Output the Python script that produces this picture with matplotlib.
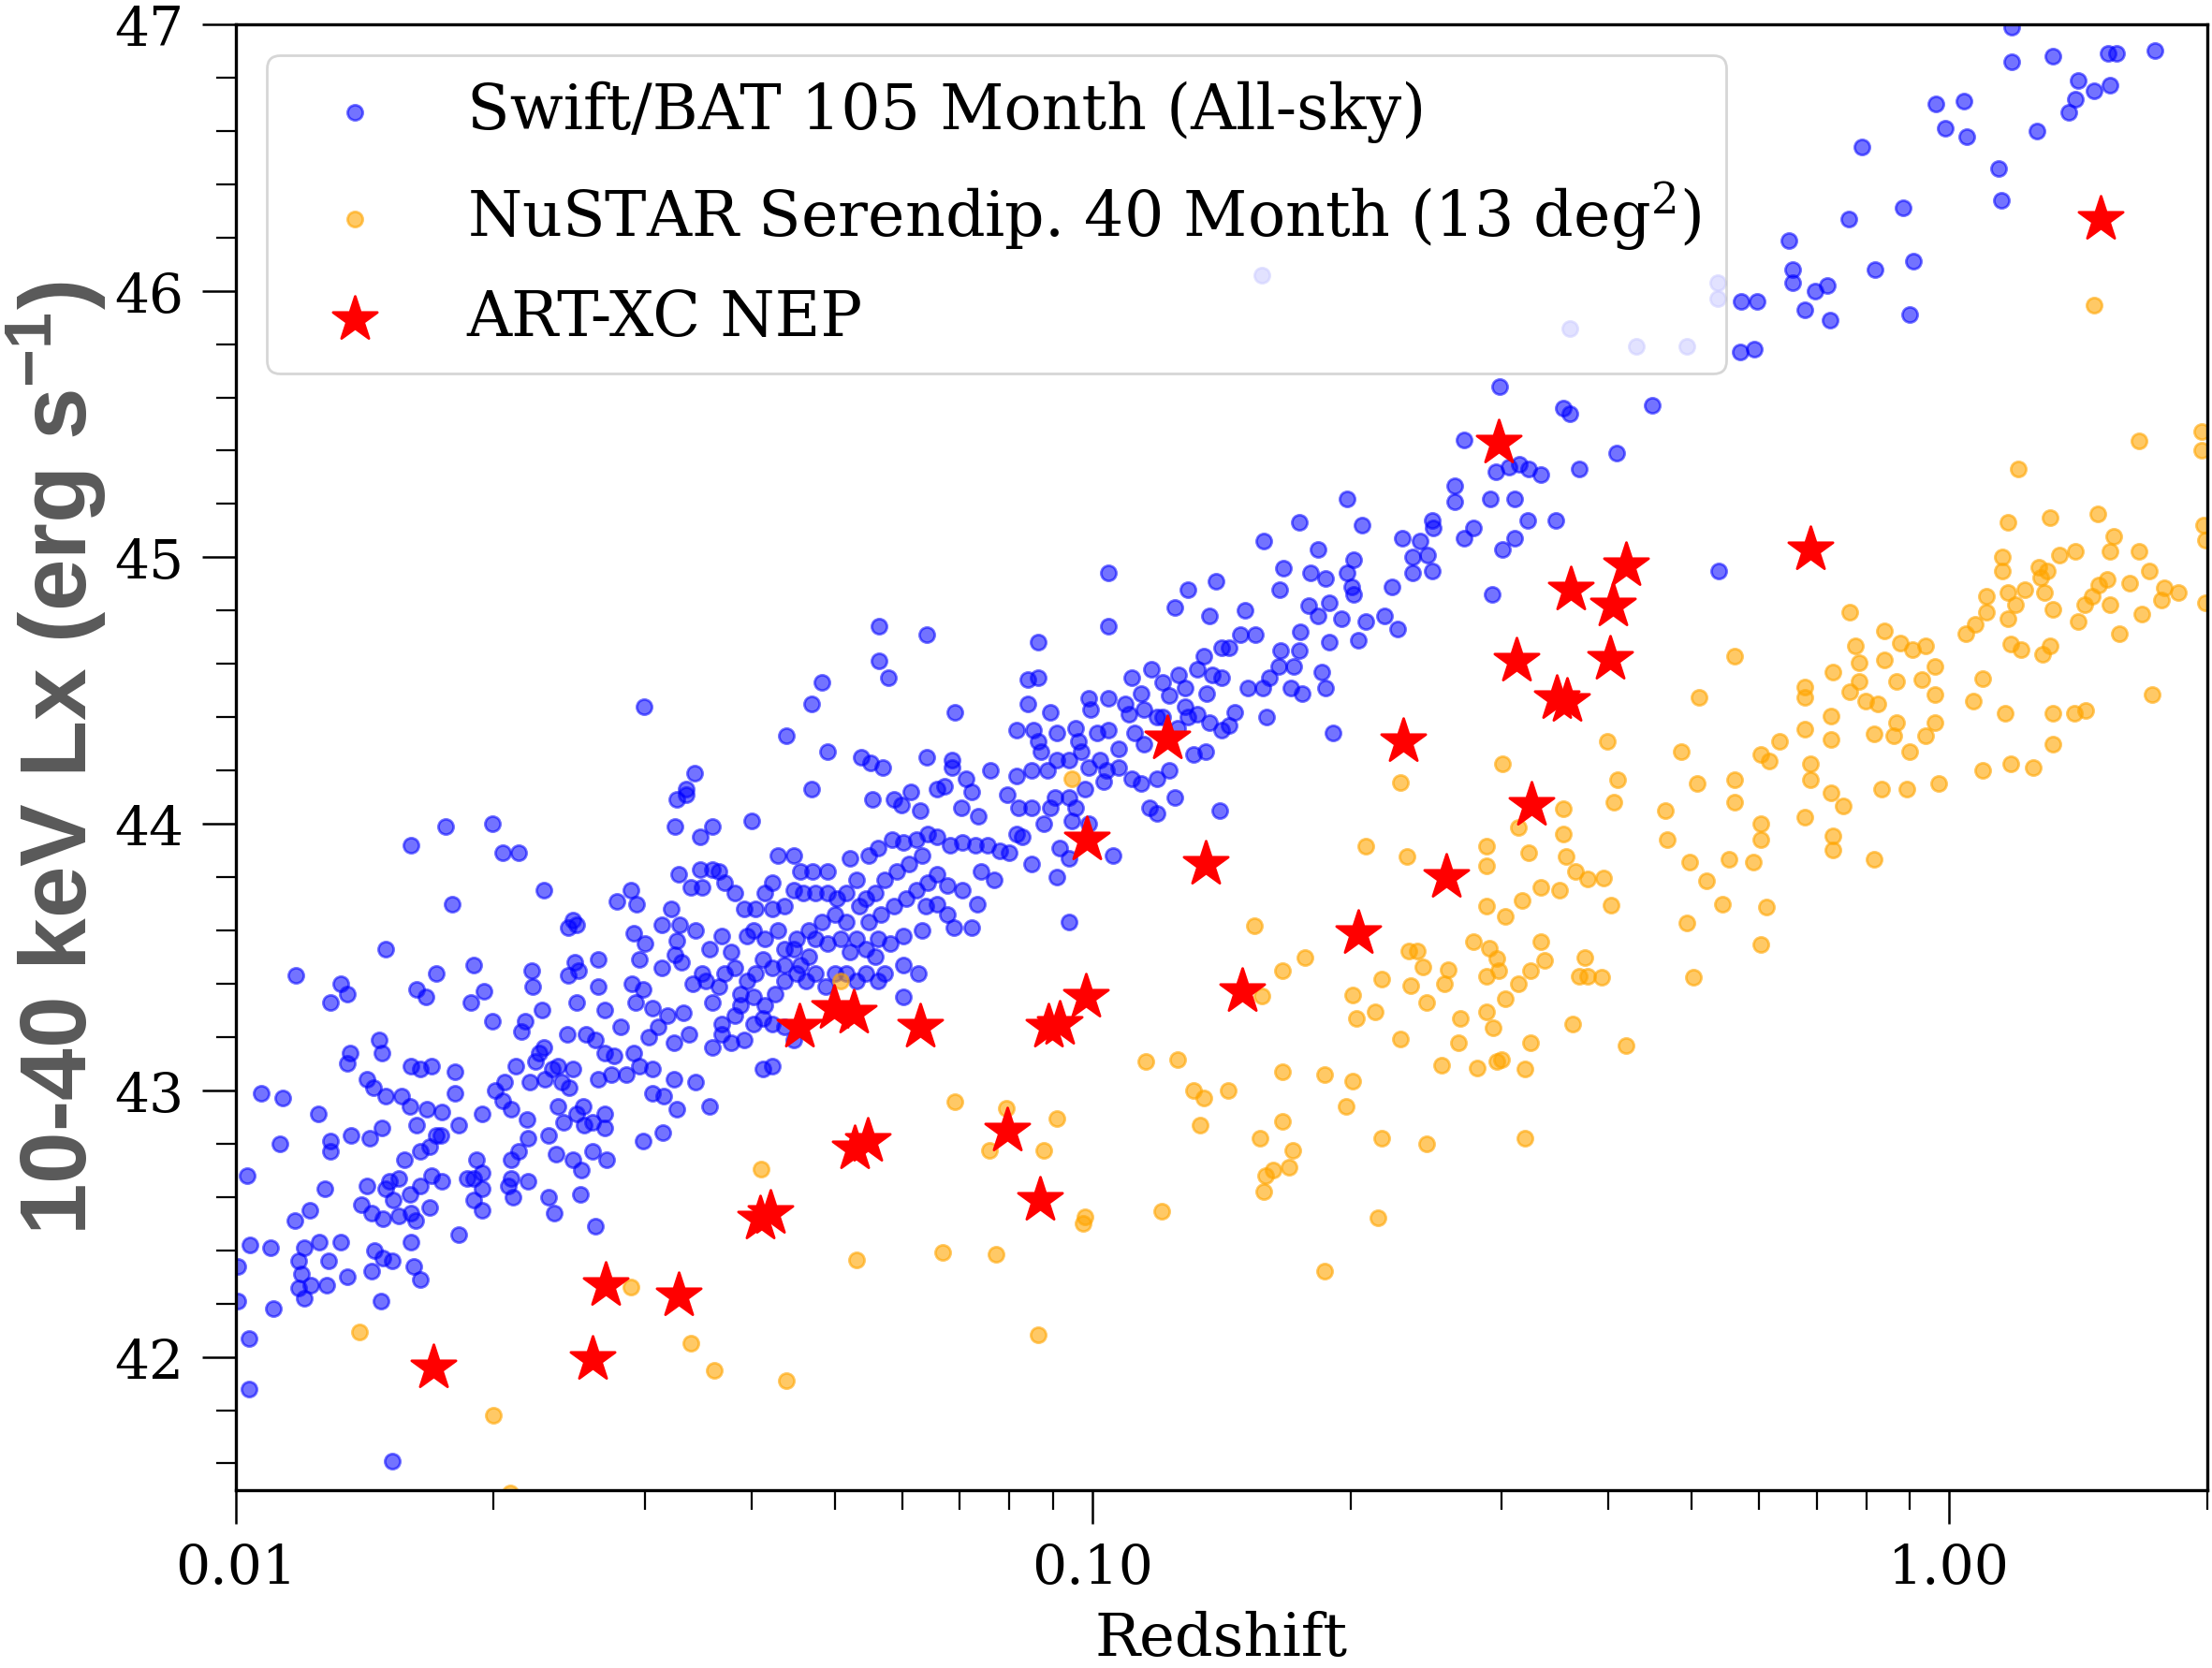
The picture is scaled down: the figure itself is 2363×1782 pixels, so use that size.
import numpy as np
import matplotlib
matplotlib.use("Agg")
import matplotlib.pyplot as plt
from matplotlib.ticker import FormatStrFormatter, AutoMinorLocator, NullFormatter

plt.rcParams['font.family'] = 'DejaVu Serif'
plt.rcParams['mathtext.fontset'] = 'custom'
plt.rcParams['mathtext.rm'] = 'Liberation Sans:bold'
plt.rcParams['mathtext.it'] = 'Liberation Sans:bold'
plt.rcParams['mathtext.bf'] = 'Liberation Sans:bold'

# Swift/BAT 105 month: log10(redshift) and log10 Lx
bat_log_z = [
    -1.485, -1.474, -1.487, -1.458, -1.458, -1.483, -1.469, -1.456, -1.755, -1.700,
    -1.796, -1.689, -1.670, -1.747, -1.640, -1.555, -1.539, -1.532, -1.492, -1.606,
    -1.602, -1.612, -1.536, -1.522, -1.503, -1.482, -1.463, -1.485, -1.487, -1.529,
    -1.577, -1.604, -1.480, -1.825, -1.930, -1.877, -1.870, -1.889, -1.789, -1.778,
    -1.766, -1.722, -1.710, -1.726, -1.700, -1.655, -1.653, -1.612, -1.600, -1.602,
    -1.577, -1.569, -1.643, -1.662, -1.667, -1.538, -1.525, -1.514, -1.533, -1.503,
    -1.467, -1.456, -1.496, -1.478, -1.833, -1.829, -1.867, -1.870, -1.847, -1.839,
    -1.825, -1.807, -1.796, -1.785, -1.772, -1.744, -1.744, -1.797, -1.777, -1.759,
    -1.789, -1.740, -1.712, -1.697, -1.686, -1.673, -1.657, -1.646, -1.640, -1.650,
    -1.631, -1.620, -1.613, -1.591, -1.580, -1.569, -1.558, -1.551, -1.536, -1.518,
    -1.507, -1.489, -1.471, -1.463, -1.562, -1.544, -1.577, -1.611, -1.624, -1.679,
    -1.660, -1.639, -1.624, -1.606, -1.514, -1.489, -1.529, -1.970, -1.945, -1.904,
    -1.948, -1.889, -1.889, -1.866, -1.844, -1.829, -1.766, -1.774, -1.761, -1.803,
    -1.810, -1.785, -1.771, -1.759, -1.785, -1.797, -1.821, -1.825, -1.847, -1.816,
    -1.774, -1.790, -1.796, -1.810, -1.828, -1.841, -1.854, -1.896, -1.914, -1.931,
    -1.719, -1.722, -1.713, -1.712, -1.722, -1.713, -1.730, -1.679, -1.670, -1.659,
    -1.679, -1.682, -1.677, -1.659, -1.635, -1.626, -1.617, -1.602, -1.595, -1.593,
    -1.584, -1.569, -1.569, -1.606, -1.597, -1.584, -1.567, -1.635, -1.628, -1.598,
    -1.580, -1.525, -1.502, -1.485, -1.514, -1.500, -1.740, -1.688, -1.987, -1.984,
    -1.959, -1.920, -1.903, -1.878, -1.927, -1.923, -1.927, -1.920, -1.912, -1.892,
    -1.894, -1.870, -1.838, -1.828, -1.817, -1.841, -1.830, -1.796, -1.792, -1.785,
    -1.956, -1.985, -1.985, -1.817, -1.998, -1.998,
    # middle of the band
    -1.524, -1.465, -1.474, -1.249, -1.194, -1.249, -1.238, -1.316, -1.328, -1.357,
    -1.309, -1.270, -1.259, -1.245, -1.194, -1.328, -1.398, -1.444, -1.257, -1.212,
    -1.232, -1.223, -1.201, -1.367, -1.349, -1.374, -1.382, -1.341, -1.327, -1.309,
    -1.283, -1.261, -1.250, -1.234, -1.221, -1.206, -1.192, -1.199, -1.214, -1.228,
    -1.243, -1.254, -1.265, -1.276, -1.287, -1.298, -1.309, -1.323, -1.338, -1.349,
    -1.360, -1.374, -1.393, -1.407, -1.418, -1.429, -1.436, -1.444, -1.447, -1.433,
    -1.422, -1.403, -1.396, -1.382, -1.367, -1.360, -1.345, -1.331, -1.316, -1.301,
    -1.287, -1.272, -1.261, -1.247, -1.232, -1.217, -1.206, -1.192, -1.195, -1.199,
    -1.221, -1.236, -1.250, -1.254, -1.265, -1.276, -1.283, -1.294, -1.309, -1.323,
    -1.331, -1.341, -1.349, -1.360, -1.374, -1.385, -1.393, -1.403, -1.411, -1.418,
    -1.429, -1.436, -1.451, -1.444, -1.433, -1.418, -1.411, -1.396, -1.382, -1.371,
    -1.360, -1.345, -1.334, -1.323, -1.312, -1.301, -1.287, -1.276, -1.265, -1.250,
    -1.243, -1.221, -1.203, -1.221, -1.444, -1.433, -1.422, -1.407, -1.396, -1.385,
    -1.374, -1.360, -1.349, -1.447, -1.385, -1.374,
    # upper middle
    -0.703, -0.759, -0.685, -0.800, -0.737, -0.638, -0.777, -0.745, -0.728, -0.782,
    -0.703, -0.695, -0.697, -0.695, -0.651, -0.982, -0.889, -0.856, -0.904, -0.863,
    -0.822, -0.982, -0.748, -0.724, -0.737, -0.710, -0.681, -0.659, -0.644, -0.757,
    -0.724, -0.690, -0.827, -0.810, -0.841, -0.849, -0.781, -0.759, -1.064, -1.075,
    -1.064, -1.075, -0.954, -0.931, -0.918, -0.900, -0.878, -0.870, -0.860, -0.849,
    -0.892, -0.911, -0.819, -0.801, -0.794, -0.783, -0.765, -0.768, -0.755, -0.732,
    -0.728, -1.004, -0.982, -1.002, -1.049, -0.962, -0.943, -0.940, -0.958, -0.925,
    -0.892, -0.889, -0.878, -0.867, -0.863, -0.834, -0.797, -0.719, -1.161, -1.089,
    -1.069, -1.064, -1.060, -1.042, -1.020, -1.016, -1.013, -0.995, -0.982, -0.969,
    -0.951, -0.940, -0.918, -0.901, -0.849, -0.841, -0.882, -0.868, -1.164, -1.164,
    -1.119, -1.089, -1.071, -1.053, -1.042, -1.027, -1.005, -0.991, -0.984, -0.969,
    -0.954, -0.943, -0.925, -0.911, -0.987, -1.009, -1.044, -1.027, -1.181, -1.173,
    -1.148, -1.141, -1.153, -1.133, -1.100, -1.086, -1.071, -1.057, -1.049, -1.020,
    -1.005, -1.024, -0.933, -0.925, -0.904, -0.852, -1.181, -1.166, -1.152, -1.137,
    -1.122, -1.108, -1.089, -1.082, -1.097, -1.071, -1.038, -1.027, -0.976, -1.042,
    -1.115, -1.130, -1.181, -1.170, -1.152, -1.181, -1.170, -1.162, -1.141, -1.135,
    -1.027,
    # high redshift end
    -0.270, -0.270, -0.443, -0.365, -0.306, -0.243, -0.224, -0.244, -0.228, -0.525,
    -0.451, -0.443, -0.347, -0.566, -0.388, -0.432, -0.529, -0.514, -0.502, -0.491,
    -0.477, -0.577, -0.577, -0.536, -0.507, -0.492, -0.459, -0.555, -0.566, -0.507,
    -0.522, -0.269, -0.533, -0.604, -0.602, -0.618, -0.609, -0.604, -0.626, -0.626,
    0.073, 0.121, 0.185, 0.195, 0.240, 0.073, 0.151, 0.169, 0.188, 0.147,
    0.140, 0.102, -0.016, 0.017, -0.005, 0.020, 0.058, 0.061, -0.102, -0.117,
    -0.054, -0.187, -0.183, -0.183, -0.157, -0.142, -0.169, -0.139, -0.087, -0.042,
    -0.046, -0.802,
]
bat_lx = [
    44.09, 44.11, 43.99, 43.95, 43.83, 43.81, 43.76, 43.76, 43.99, 44.00,
    43.92, 43.89, 43.89, 43.70, 43.75, 43.71, 43.75, 43.70, 43.68, 43.64,
    43.62, 43.61, 43.59, 43.55, 43.62, 43.62, 43.60, 43.56, 43.51, 43.49,
    43.49, 43.48, 43.48, 43.53, 43.43, 43.40, 43.36, 43.33, 43.38, 43.35,
    43.44, 43.47, 43.37, 43.33, 43.26, 43.45, 43.39, 43.43, 43.45, 43.33,
    43.39, 43.30, 43.30, 43.26, 43.22, 43.40, 43.38, 43.31, 43.33, 43.46,
    43.40, 43.44, 43.28, 43.29, 43.19, 43.14, 43.14, 43.10, 43.04, 43.01,
    42.98, 42.98, 43.09, 43.08, 43.09, 43.07, 42.99, 42.94, 42.93, 42.92,
    42.87, 42.87, 42.91, 43.00, 43.03, 43.09, 43.03, 43.14, 43.16, 43.11,
    43.08, 43.03, 43.21, 43.21, 43.19, 43.14, 43.13, 43.24, 43.14, 43.20,
    43.24, 43.18, 43.21, 43.03, 43.06, 43.06, 43.04, 43.01, 42.94, 42.93,
    42.89, 43.04, 43.09, 43.08, 43.08, 43.04, 43.09, 42.99, 42.97, 42.91,
    42.80, 42.81, 42.77, 42.83, 42.82, 42.86, 42.83, 42.79, 42.83, 42.74,
    42.67, 42.77, 42.68, 42.66, 42.64, 42.61, 42.66, 42.63, 42.64, 42.59,
    42.56, 42.51, 42.54, 42.53, 42.52, 42.54, 42.57, 42.63, 42.55, 42.51,
    42.74, 42.67, 42.69, 42.63, 42.59, 42.55, 42.67, 42.74, 42.77, 42.82,
    42.67, 42.64, 42.60, 42.66, 42.83, 42.76, 42.88, 42.91, 42.94, 42.87,
    42.88, 42.91, 42.86, 42.74, 42.70, 42.77, 42.74, 42.60, 42.54, 42.61,
    42.49, 42.81, 42.84, 42.93, 42.99, 42.98, 42.46, 42.96, 42.68, 42.42,
    42.41, 42.41, 42.43, 42.43, 42.36, 42.31, 42.26, 42.22, 42.27, 42.36,
    42.27, 42.30, 42.40, 42.37, 42.36, 42.32, 42.21, 42.43, 42.34, 42.29,
    42.18, 42.07, 41.88, 41.61, 42.34, 42.21,
    # middle of the band
    44.44, 44.19, 44.13, 44.74, 44.71, 44.61, 44.55, 44.53, 44.45, 44.33,
    44.27, 44.25, 44.23, 44.21, 44.25, 44.13, 44.01, 43.99, 44.09, 44.12,
    44.09, 44.07, 44.05, 43.88, 43.88, 43.78, 43.74, 43.82, 43.82, 43.82,
    43.87, 43.88, 43.91, 43.94, 43.93, 43.94, 43.96, 43.88, 43.85, 43.82,
    43.79, 43.74, 43.72, 43.79, 43.74, 43.72, 43.74, 43.74, 43.74, 43.75,
    43.69, 43.68, 43.68, 43.68, 43.74, 43.78, 43.82, 43.83, 43.53, 43.58,
    43.52, 43.58, 43.60, 43.57, 43.60, 43.53, 43.57, 43.60, 43.63, 43.66,
    43.63, 43.69, 43.63, 43.66, 43.69, 43.72, 43.75, 43.78, 43.69, 43.60,
    43.58, 43.55, 43.57, 43.50, 43.53, 43.57, 43.52, 43.57, 43.55, 43.57,
    43.50, 43.47, 43.53, 43.47, 43.46, 43.49, 43.44, 43.41, 43.36, 43.46,
    43.44, 43.39, 43.41, 43.33, 43.25, 43.28, 43.32, 43.35, 43.32, 43.36,
    43.41, 43.44, 43.41, 43.44, 43.39, 43.44, 43.44, 43.41, 43.44, 43.41,
    43.44, 43.35, 43.44, 43.47, 43.16, 43.21, 43.18, 43.19, 43.25, 43.27,
    43.25, 43.24, 43.19, 42.94, 43.08, 43.09,
    # upper middle
    45.22, 45.13, 45.12, 45.06, 45.03, 45.07, 44.96, 44.94, 44.92, 44.88,
    44.94, 44.99, 44.89, 44.86, 44.89, 44.94, 44.88, 44.91, 44.81, 44.78,
    44.80, 44.74, 44.82, 44.83, 44.78, 44.77, 44.76, 44.78, 44.73, 44.72,
    44.68, 44.69, 44.71, 44.71, 44.66, 44.66, 44.65, 44.65, 44.68, 44.54,
    44.55, 44.45, 44.55, 44.58, 44.53, 44.56, 44.58, 44.63, 44.56, 44.55,
    44.51, 44.48, 44.51, 44.51, 44.55, 44.59, 44.59, 44.51, 44.49, 44.57,
    44.51, 44.47, 44.47, 44.43, 44.42, 44.45, 44.49, 44.43, 44.41, 44.40,
    44.44, 44.40, 44.41, 44.49, 44.38, 44.42, 44.40, 44.34, 44.42, 44.35,
    44.35, 44.31, 44.27, 44.34, 44.36, 44.31, 44.27, 44.34, 44.35, 44.28,
    44.34, 44.30, 44.40, 44.36, 44.35, 44.37, 44.26, 44.27, 44.24, 44.21,
    44.20, 44.18, 44.20, 44.20, 44.24, 44.24, 44.21, 44.24, 44.20, 44.21,
    44.17, 44.15, 44.17, 44.20, 44.16, 44.13, 44.10, 44.10, 44.13, 44.14,
    44.17, 44.12, 44.06, 44.03, 44.11, 44.06, 44.06, 44.00, 44.06, 44.06,
    44.00, 44.01, 44.06, 44.04, 44.10, 44.05, 43.95, 43.92, 43.93, 43.92,
    43.92, 43.90, 43.96, 43.95, 43.89, 43.85, 43.91, 43.87, 43.88, 43.80,
    43.79, 43.82, 43.81, 43.77, 43.75, 43.70, 43.66, 43.61, 43.61, 43.70,
    43.63,
    # high redshift end
    46.03, 45.97, 45.86, 45.79, 45.79, 45.96, 45.96, 45.77, 45.78, 45.64,
    45.56, 45.54, 45.57, 45.44, 45.39, 45.33, 45.32, 45.34, 45.35, 45.33,
    45.31, 45.27, 45.21, 45.22, 45.22, 45.14, 45.14, 45.11, 45.07, 45.07,
    45.03, 44.95, 44.86, 45.14, 45.11, 45.06, 45.01, 44.95, 45.00, 44.94,
    46.86, 46.88, 46.89, 46.89, 46.90, 46.99, 46.79, 46.75, 46.77, 46.72,
    46.67, 46.60, 46.70, 46.71, 46.61, 46.58, 46.46, 46.34, 46.54, 46.27,
    46.31, 46.19, 46.08, 46.03, 46.00, 46.02, 45.93, 45.89, 46.08, 46.11,
    45.91, 46.06,
]

# NuSTAR serendipitous survey
nustar_z = [
    0.2083, 0.2327, 0.2884, 0.2884, 0.3541, 0.3541, 0.3139, 0.3225, 0.3575, 0.3662,
    0.3788, 0.3336, 0.3508, 0.3170, 0.2884, 0.3034, 0.1544, 0.1771, 0.1668, 0.1575,
    0.2782, 0.2905, 0.2962, 0.2976, 0.2884, 0.3336, 0.3368, 0.3247, 0.3139, 0.3034,
    0.2884, 0.2934, 0.2690, 0.2672, 0.2557, 0.2809, 0.2962, 0.3005, 0.3193, 0.3247,
    0.3638, 0.3753, 0.3788, 0.3698, 0.2338, 0.2395, 0.2430, 0.2600, 0.2575, 0.2350,
    0.2454, 0.2176, 0.2013, 0.2032, 0.2137, 0.2287, 0.1153, 0.1257, 0.1313, 0.1349,
    0.1440, 0.1668, 0.1864, 0.2013, 0.1978, 0.1336, 0.1668, 0.1570, 0.1712, 0.1696,
    0.1623, 0.1592, 0.1585, 0.2176, 0.2454, 0.3193, 0.0908, 0.0878, 0.0981, 0.0974,
    0.1205, 0.2155, 0.1864, 0.0863,
    1.667, 1.970, 1.970, 1.204, 1.172, 1.311, 1.490, 1.555, 1.542, 1.665,
    1.404, 1.345, 1.154, 1.154, 1.272, 1.300, 1.279, 1.712, 1.623, 1.494,
    1.529, 1.542, 1.439, 1.470, 1.781, 1.849, 1.768, 1.676, 1.580, 1.413,
    1.321, 1.290, 1.226, 1.172, 1.194, 1.172, 1.105, 1.105, 1.073, 1.045,
    1.181, 1.213, 1.286, 1.311, 1.981, 1.990, 1.990, 0.765, 0.839, 0.876,
    0.905, 0.939, 0.777, 0.785, 0.732, 0.839, 0.962, 0.785, 0.765, 0.679,
    0.679, 0.798, 0.825, 0.869, 0.929, 0.962, 1.094, 1.067, 1.162, 1.321,
    1.401, 1.442, 1.725, 1.321, 1.181, 1.252, 1.094, 0.972, 0.892, 0.833,
    0.727, 0.679, 0.727, 0.633, 0.602, 0.616, 0.689, 0.689, 0.727, 0.752,
    0.679, 0.818, 0.869, 0.962, 0.939, 0.862, 0.900, 0.818, 0.731, 0.731,
    0.561, 0.511, 0.399, 0.410, 0.406, 0.486, 0.508, 0.561, 0.561, 0.466,
    0.469, 0.602, 0.602, 0.498, 0.553, 0.590, 0.521, 0.395, 0.403, 0.543,
    0.612, 0.494, 0.602, 0.393, 0.503, 0.420,
    0.01395, 0.01996, 0.0289, 0.0340, 0.0209, 0.0362, 0.0439, 0.0508, 0.0947, 0.0691,
    0.0793, 0.0758, 0.0410, 0.0530, 0.0668, 0.0771, 0.2287, 0.301, 1.477,
]
nustar_lx = [
    43.915, 43.877, 43.915, 43.841, 44.056, 43.962, 43.985, 43.891, 43.877, 43.821,
    43.794, 43.761, 43.750, 43.714, 43.690, 43.653, 43.617, 43.499, 43.450, 43.354,
    43.559, 43.535, 43.496, 43.450, 43.428, 43.559, 43.486, 43.450, 43.401, 43.342,
    43.295, 43.235, 43.271, 43.177, 43.093, 43.083, 43.110, 43.117, 43.081, 43.177,
    43.248, 43.499, 43.428, 43.428, 43.523, 43.523, 43.462, 43.452, 43.401, 43.392,
    43.331, 43.416, 43.356, 43.271, 43.295, 43.191, 43.107, 43.117, 43.000, 42.973,
    43.000, 43.070, 43.059, 43.035, 42.939, 42.869, 42.882, 42.822, 42.775, 42.712,
    42.701, 42.681, 42.621, 42.822, 42.798, 42.822, 42.893, 42.775, 42.527, 42.500,
    42.547, 42.523, 42.322, 42.084,
    45.437, 45.471, 45.401, 45.330, 45.130, 45.150, 45.163, 45.080, 45.021, 45.021,
    45.021, 45.010, 45.002, 44.950, 44.963, 44.947, 44.924, 44.950, 44.903, 44.895,
    44.916, 44.822, 44.822, 44.853, 44.884, 44.869, 44.841, 44.786, 44.712, 44.759,
    44.806, 44.869, 44.877, 44.869, 44.822, 44.770, 44.853, 44.794, 44.747, 44.712,
    44.673, 44.653, 44.637, 44.666, 45.119, 45.064, 44.830, 44.795, 44.725, 44.678,
    44.653, 44.666, 44.666, 44.606, 44.569, 44.616, 44.592, 44.533, 44.497, 44.512,
    44.475, 44.462, 44.450, 44.533, 44.543, 44.486, 44.545, 44.462, 44.415, 44.415,
    44.415, 44.426, 44.486, 44.298, 44.224, 44.212, 44.201, 44.152, 44.131, 44.131,
    44.403, 44.356, 44.318, 44.309, 44.262, 44.235, 44.224, 44.165, 44.118, 44.068,
    44.024, 44.337, 44.381, 44.381, 44.329, 44.329, 44.271, 43.868, 43.954, 43.902,
    44.630, 44.475, 44.309, 44.165, 44.082, 44.271, 44.152, 44.165, 44.082, 44.048,
    43.941, 44.001, 43.941, 43.855, 43.868, 43.855, 43.785, 43.797, 43.696, 43.700,
    43.688, 43.628, 43.547, 43.425, 43.425, 43.167,
    42.095, 41.779, 42.263, 42.052, 41.49, 41.95, 41.91, 43.409, 44.168, 42.956,
    42.932, 42.776, 42.705, 42.364, 42.392, 42.385, 44.155, 44.225, 45.947,
]

# ART-XC NEP sources
art_z = [
    0.0170, 0.0261, 0.0270, 0.0329, 0.0409, 0.0421, 0.0455, 0.0499, 0.0526, 0.0528,
    0.0547, 0.0630, 0.0796, 0.0869, 0.0889, 0.0916, 0.0982, 0.0985, 0.1223, 0.1355,
    0.1496, 0.2043, 0.2307, 0.2587, 0.2978, 0.3128, 0.325, 0.348, 0.358, 0.362,
    0.402, 0.405, 0.419, 0.689, 1.503,
]
art_lx = [
    41.96, 41.99, 42.27, 42.23, 42.52, 42.54, 43.24, 43.31, 43.29, 42.78,
    42.81, 43.24, 42.85, 42.59, 43.24, 43.25, 43.35, 43.94, 44.32, 43.85,
    43.37, 43.59, 44.31, 43.80, 45.43, 44.61, 44.07, 44.47, 44.46, 44.88,
    44.62, 44.82, 44.97, 45.03, 46.27,
]

fig = plt.figure(figsize=(2363 / 200, 1783 / 200), dpi=200)
ax = fig.add_axes([0.1066, 0.1066, 0.8912, 0.8783])

ax.scatter(10 ** np.array(bat_log_z), bat_lx, s=34, color='blue', alpha=0.55,
           label='Swift/BAT 105 Month (All-sky)')
ax.scatter(nustar_z, nustar_lx, s=34, color='orange', alpha=0.6,
           label=r'NuSTAR Serendip. 40 Month (13 deg$^{\mathregular{2}}$)')
ax.scatter(art_z, art_lx, s=320, marker='*', color='red', label='ART-XC NEP')

ax.set_xscale('log')
ax.set_xlim(0.01, 2.0)
ax.set_ylim(41.5, 47)
ax.xaxis.set_major_formatter(FormatStrFormatter('%.2f'))
ax.xaxis.set_minor_formatter(NullFormatter())
ax.yaxis.set_minor_locator(AutoMinorLocator(5))

ax.tick_params(which='major', direction='out', length=13, width=0.9, labelsize=21, pad=7)
ax.tick_params(which='minor', direction='out', length=7.5, width=0.8)
for sp in ax.spines.values():
    sp.set_linewidth(1.2)

ax.set_xlabel('Redshift', fontsize=23, labelpad=6)
ax.set_ylabel('10-40 keV Lx (erg s$^{-1}$)', fontsize=36, fontweight='bold',
              family='Liberation Sans', color='#595959', va='center')
ax.yaxis.set_label_coords(-0.0912, 0.5)

ax.legend(loc='upper left', fontsize=24, labelspacing=0.57)

fig.savefig('out.png', dpi=200)
